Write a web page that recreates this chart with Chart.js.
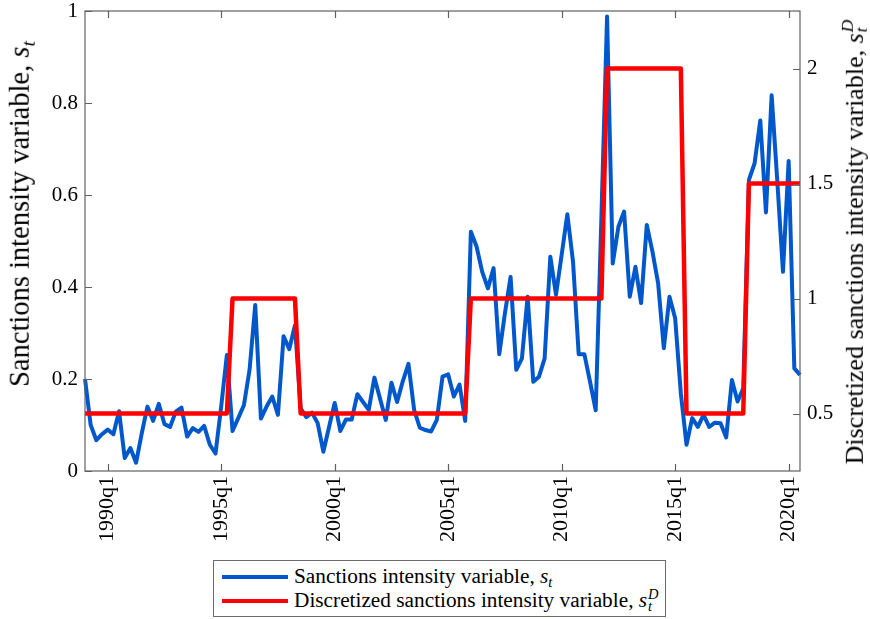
<!DOCTYPE html>
<html>
<head>
<meta charset="utf-8">
<script src="https://cdn.jsdelivr.net/npm/chart.js@4.4.1/dist/chart.umd.min.js"></script>
<style>
  html, body { margin: 0; padding: 0; background: #fff; }
  #wrap { position: relative; width: 870px; height: 619px; font-family: "Liberation Serif", "Times New Roman", Times, Tinos, "DejaVu Serif", serif; color: #000; }
  #c { position: absolute; left: 0; top: 0; }
  .ytitle { position: absolute; white-space: nowrap; font-size: 26px; line-height: 1; transform: translate(-50%, -50%) rotate(-90deg); }
  .ss { display: inline-block; vertical-align: -0.25em; line-height: 0.8; font-size: 0.68em; font-style: italic; margin-left: 1px; }
  .ss span { display: block; }
  sub.t { font-size: 0.68em; font-style: italic; vertical-align: -0.3em; line-height: 0; }
  #legend { position: absolute; left: 213px; top: 560px; width: 451px; height: 55px; border: 1px solid #6a6a6a; background: #fff; font-size: 21.3px; }
  .row { position: absolute; left: 0; height: 25px; line-height: 25px; white-space: nowrap; }
  .sw { position: absolute; left: 8px; top: 11px; width: 66px; height: 4px; }
  .txt { position: absolute; left: 80px; top: 0; }
</style>
</head>
<body>
<div id="wrap">
  <canvas id="c" width="870" height="619" style="width:870px;height:619px"></canvas>
  <div class="ytitle" style="left:20px; top:214px; font-size:28.5px;">Sanctions intensity variable, <i>s</i><sub class="t">t</sub></div>
  <div class="ytitle" style="left:854px; top:242px;">Discretized sanctions intensity variable, <i>s</i><span class="ss"><span>D</span><span>t</span></span></div>
  <div id="legend">
    <div class="row" style="top:3px;"><span class="sw" style="background:#0058CC"></span><span class="txt">Sanctions intensity variable, <i>s</i><sub class="t">t</sub></span></div>
    <div class="row" style="top:27px;"><span class="sw" style="background:#FF0000"></span><span class="txt">Discretized sanctions intensity variable, <i>s</i><span class="ss"><span>D</span><span>t</span></span></span></div>
  </div>
</div>
<script>
// Quarterly categories 1989q1 .. 2020q3
const quarters = [];
for (let y = 1989; y <= 2020; y++) { for (let q = 1; q <= 4; q++) { quarters.push(y + 'q' + q); } }
quarters.length = 127;

const xTickLabels = ['1990q1', '1995q1', '2000q1', '2005q1', '2010q1', '2015q1', '2020q1'];
const leftTicks = [0, 0.2, 0.4, 0.6, 0.8, 1];
const rightTicks = [0.5, 1, 1.5, 2];

// Sanctions intensity variable s_t (left axis)
const sanctions = [
  0.200, 0.100, 0.067, 0.080,
  0.090, 0.080, 0.130, 0.028, 0.050, 0.018, 0.082, 0.140, 0.109, 0.146, 0.102, 0.096, 0.129, 0.138, 0.075, 0.093, 0.085, 0.098, 0.057, 0.038,
  0.140, 0.252, 0.087, 0.115, 0.143, 0.220, 0.361, 0.114, 0.140, 0.162, 0.122, 0.293, 0.265, 0.317, 0.136, 0.117, 0.127, 0.104, 0.042, 0.095,
  0.148, 0.087, 0.112, 0.112, 0.167, 0.150, 0.133, 0.203, 0.157, 0.111, 0.192, 0.150, 0.195, 0.233, 0.133, 0.094, 0.089, 0.086, 0.111, 0.205,
  0.210, 0.162, 0.188, 0.109, 0.520, 0.488, 0.433, 0.397, 0.441, 0.254, 0.343, 0.422, 0.220, 0.245, 0.379, 0.194, 0.205, 0.245, 0.466, 0.383,
  0.470, 0.558, 0.455, 0.254, 0.254, 0.194, 0.132, 0.550, 0.988, 0.451, 0.531, 0.564, 0.379, 0.444, 0.365, 0.535, 0.477, 0.408, 0.267, 0.379,
  0.332, 0.169, 0.057, 0.115, 0.096, 0.122, 0.096, 0.105, 0.104, 0.073, 0.198, 0.151, 0.180, 0.633, 0.669, 0.762, 0.562, 0.817, 0.630, 0.433,
  0.674, 0.223, 0.209
];

// Discretized sanctions intensity variable s_t^D (right axis)
const discretized = [
  0.5, 0.5, 0.5, 0.5,
  0.5, 0.5, 0.5, 0.5, 0.5, 0.5, 0.5, 0.5, 0.5, 0.5, 0.5, 0.5, 0.5, 0.5, 0.5, 0.5, 0.5, 0.5, 0.5, 0.5,
  0.5, 0.5, 1, 1, 1, 1, 1, 1, 1, 1, 1, 1, 1, 1, 0.5, 0.5, 0.5, 0.5, 0.5, 0.5,
  0.5, 0.5, 0.5, 0.5, 0.5, 0.5, 0.5, 0.5, 0.5, 0.5, 0.5, 0.5, 0.5, 0.5, 0.5, 0.5, 0.5, 0.5, 0.5, 0.5,
  0.5, 0.5, 0.5, 0.5, 1, 1, 1, 1, 1, 1, 1, 1, 1, 1, 1, 1, 1, 1, 1, 1,
  1, 1, 1, 1, 1, 1, 1, 1, 2, 2, 2, 2, 2, 2, 2, 2, 2, 2, 2, 2,
  2, 2, 0.5, 0.5, 0.5, 0.5, 0.5, 0.5, 0.5, 0.5, 0.5, 0.5, 0.5, 1.5, 1.5, 1.5, 1.5, 1.5, 1.5, 1.5,
  1.5, 1.5, 1.5
];

const AXIS_COLOR = '#606060';
const SERIF = '"Liberation Serif", "Times New Roman", Times, Tinos, "DejaVu Serif", serif';
const TICK_FONT = { family: SERIF, size: 21 };

const frame = {
  id: 'frame',
  afterDatasetsDraw(chart) {
    const { ctx, chartArea: a, scales } = chart;
    ctx.save();
    ctx.strokeStyle = AXIS_COLOR;
    ctx.lineWidth = 1.2;
    const L = 7;
    ctx.beginPath();
    scales.x.ticks.forEach(t => {
      const px = Math.round(scales.x.getPixelForValue(t.value)) + 0.5;
      ctx.moveTo(px, a.bottom); ctx.lineTo(px, a.bottom - L);
      ctx.moveTo(px, a.top); ctx.lineTo(px, a.top + L);
    });
    scales.y.ticks.forEach(t => {
      const py = Math.round(scales.y.getPixelForValue(t.value)) + 0.5;
      ctx.moveTo(a.left, py); ctx.lineTo(a.left + L, py);
    });
    scales.y2.ticks.forEach(t => {
      const py = Math.round(scales.y2.getPixelForValue(t.value)) + 0.5;
      ctx.moveTo(a.right, py); ctx.lineTo(a.right - L, py);
    });
    ctx.stroke();
    ctx.strokeRect(a.left, a.top, a.right - a.left, a.bottom - a.top);
    ctx.restore();
  }
};

function noPad(scale) {
  scale.paddingTop = 0; scale.paddingBottom = 0; scale.paddingLeft = 0; scale.paddingRight = 0;
}

Chart.defaults.font.family = SERIF;

new Chart(document.getElementById('c'), {
  type: 'line',
  data: {
    labels: quarters,
    datasets: [
      {
        label: 'Discretized sanctions intensity variable, s_t^D',
        data: discretized,
        yAxisID: 'y2',
        borderColor: '#FF0000',
        borderWidth: 4.5,
        pointRadius: 0,
        tension: 0,
        borderJoinStyle: 'round',
        fill: false
      },
      {
        label: 'Sanctions intensity variable, s_t',
        data: sanctions,
        yAxisID: 'y',
        borderColor: '#0058CC',
        borderWidth: 4,
        pointRadius: 0,
        tension: 0,
        borderJoinStyle: 'round',
        fill: false
      }
    ]
  },
  options: {
    responsive: false,
    animation: false,
    layout: { padding: { top: 11, left: 0, right: 0, bottom: 0 } },
    plugins: { legend: { display: false }, tooltip: { enabled: false }, title: { display: false } },
    scales: {
      x: {
        type: 'category',
        offset: false,
        grid: { display: false, drawTicks: false },
        border: { display: false },
        ticks: { autoSkip: false, minRotation: 90, maxRotation: 90, padding: 5, color: '#000', font: { family: SERIF, size: 22 } },
        afterBuildTicks(scale) { scale.ticks = xTickLabels.map(l => ({ value: quarters.indexOf(l) })); },
        afterFit(scale) { scale.height = 148; noPad(scale); }
      },
      y: {
        type: 'linear',
        position: 'left',
        min: 0, max: 1,
        grid: { display: false, drawTicks: false },
        border: { display: false },
        ticks: { padding: 7, color: '#000', font: TICK_FONT, callback: v => String(v) },
        afterBuildTicks(scale) { scale.ticks = leftTicks.map(v => ({ value: v })); },
        afterFit(scale) { scale.width = 85; noPad(scale); }
      },
      y2: {
        type: 'linear',
        position: 'right',
        min: 0.25, max: 2.25,
        grid: { display: false, drawTicks: false },
        border: { display: false },
        ticks: { padding: 7, color: '#000', font: TICK_FONT, callback: v => String(v) },
        afterBuildTicks(scale) { scale.ticks = rightTicks.map(v => ({ value: v })); },
        afterFit(scale) { scale.width = 70; noPad(scale); }
      }
    }
  },
  plugins: [frame]
});
</script>
</body>
</html>
